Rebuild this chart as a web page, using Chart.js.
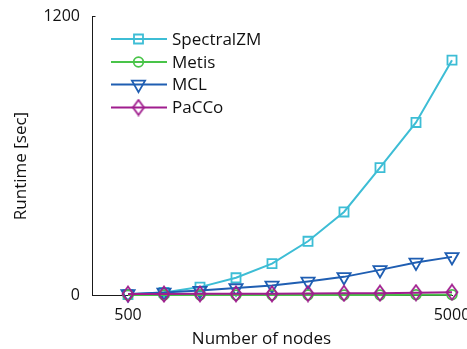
<!DOCTYPE html>
<html>
<head>
<meta charset="utf-8">
<script src="https://cdn.jsdelivr.net/npm/chart.js@4/dist/chart.umd.min.js"></script>
<style>
  html, body { margin: 0; padding: 0; background: #fff; }
  canvas { display: block; }
</style>
</head>
<body>
<canvas id="runtime" width="467" height="349"></canvas>
<script>
// Runtime (seconds) of each clustering method against graph size
const nodes      = [500, 1000, 1500, 2000, 2500, 3000, 3500, 4000, 4500, 5000];
const spectralZM = [2, 11, 34, 74, 135, 231, 357, 548, 742, 1010];
const metis      = [0, 0, 0, 0, 0, 0, 0, 0, 1, 1];
const mcl        = [4, 11, 19, 30, 41, 58, 78, 108, 140, 164];
const pacco      = [4, 4, 5, 5, 5, 6, 7, 8, 10, 12];
const xTicks     = [500, 5000];
const yTicks     = [0, 1200];
const seriesNames = ['SpectralZM', 'Metis', 'MCL', 'PaCCo'];

const COLORS = {
  spectral: '#3dbdd5',
  metis: '#49c449',
  mcl: '#1f5eb2',
  pacco: '#a01d8e'
};
const FONT = '"Open Sans", "DejaVu Sans", sans-serif';
const AXIS_COLOR = '#1a1a1a';

// Tall hollow diamond used as the PaCCo marker
function makeDiamond(color) {
  const c = document.createElement('canvas');
  c.width = 16; c.height = 18;
  const g = c.getContext('2d');
  g.strokeStyle = color;
  g.lineWidth = 1.8;
  g.beginPath();
  g.moveTo(8, 1.5);
  g.lineTo(13.5, 9);
  g.lineTo(8, 16.5);
  g.lineTo(2.5, 9);
  g.closePath();
  g.stroke();
  return c;
}
const diamond = makeDiamond(COLORS.pacco);

const pairs = ys => nodes.map((n, i) => ({ x: n, y: ys[i] }));

const datasets = [
  { label: seriesNames[0], data: pairs(spectralZM), borderColor: COLORS.spectral,
    pointStyle: 'rect', pointRadius: 6.4, order: 4 },
  { label: seriesNames[1], data: pairs(metis), borderColor: COLORS.metis,
    pointStyle: 'circle', pointRadius: 4.8, order: 2 },
  { label: seriesNames[2], data: pairs(mcl), borderColor: COLORS.mcl,
    pointStyle: 'triangle', pointRotation: 180, pointRadius: 7.6, order: 3 },
  { label: seriesNames[3], data: pairs(pacco), borderColor: COLORS.pacco,
    pointStyle: diamond, pointRadius: 7, order: 1 }
].map(d => Object.assign({
  borderWidth: 2,
  pointBorderWidth: 1.8,
  pointBorderColor: d.borderColor,
  pointBackgroundColor: 'rgba(0,0,0,0)',
  tension: 0,
  clip: false,
  fill: false
}, d));

// Legend with a line sample and marker per series, plus both axis titles
function legendMarker(ctx, idx, x, y) {
  const col = datasets[idx].borderColor;
  ctx.save();
  ctx.strokeStyle = col;
  ctx.lineWidth = 1.8;
  ctx.beginPath();
  if (idx === 0) {
    ctx.rect(x - 4.5, y - 4.5, 9, 9);
  } else if (idx === 1) {
    ctx.arc(x, y, 4.8, 0, Math.PI * 2);
  } else if (idx === 2) {
    const r = 7.6;
    ctx.moveTo(x, y + r);
    ctx.lineTo(x + r * Math.cos(Math.PI / 6), y - r / 2);
    ctx.lineTo(x - r * Math.cos(Math.PI / 6), y - r / 2);
    ctx.closePath();
  }
  ctx.stroke();
  if (idx === 3) ctx.drawImage(diamond, x - diamond.width / 2, y - diamond.height / 2);
  ctx.restore();
}

const decorations = {
  id: 'decorations',
  afterDraw(chart) {
    const { ctx, chartArea, scales } = chart;
    ctx.save();
    // inward tick marks on the value axis
    ctx.strokeStyle = AXIS_COLOR;
    ctx.lineWidth = 1;
    yTicks.forEach(v => {
      const py = Math.round(scales.y.getPixelForValue(v)) + 0.5;
      ctx.beginPath();
      ctx.moveTo(chartArea.left, py);
      ctx.lineTo(chartArea.left + 3.5, py);
      ctx.stroke();
    });

    // legend
    const lx0 = chartArea.left + 19, lx1 = chartArea.left + 75, mx = chartArea.left + 46.5;
    const rowY = [39, 62, 84.5, 107.5];
    ctx.font = '17px ' + FONT;
    ctx.textBaseline = 'middle';
    ctx.textAlign = 'left';
    datasets.forEach((d, i) => {
      const y = rowY[i];
      ctx.strokeStyle = d.borderColor;
      ctx.lineWidth = 2;
      ctx.beginPath();
      ctx.moveTo(lx0, y);
      ctx.lineTo(lx1, y);
      ctx.stroke();
      legendMarker(ctx, i, mx, y);
      ctx.fillStyle = '#111';
      ctx.fillText(d.label, chartArea.left + 80, y + 1);
    });

    // axis titles
    ctx.fillStyle = '#111';
    ctx.textAlign = 'center';
    ctx.fillText('Number of nodes', 261.5, 339);
    ctx.translate(21, 166);
    ctx.rotate(-Math.PI / 2);
    ctx.fillText('Runtime [sec]', 0, 0);
    ctx.restore();
  }
};

new Chart(document.getElementById('runtime'), {
  type: 'line',
  data: { datasets },
  options: {
    responsive: false,
    animation: false,
    devicePixelRatio: 1,
    layout: { padding: { top: 16, right: 15, left: 0, bottom: 0 } },
    plugins: {
      legend: { display: false },
      tooltip: { enabled: false }
    },
    scales: {
      x: {
        type: 'linear',
        min: 0,
        max: 5000,
        afterBuildTicks: s => { s.ticks = xTicks.map(v => ({ value: v })); },
        afterFit: s => { s.height = 54; s.paddingLeft = 0; s.paddingRight = 0; },
        ticks: {
          autoSkip: false,
          maxRotation: 0,
          padding: 11,
          color: '#111',
          font: { family: FONT, size: 16 },
          callback: v => String(v)
        },
        grid: { display: true, drawOnChartArea: false, drawTicks: false },
        border: { display: true, color: AXIS_COLOR, width: 1 },
        title: { display: false }
      },
      y: {
        type: 'linear',
        min: 0,
        max: 1200,
        afterBuildTicks: s => { s.ticks = yTicks.map(v => ({ value: v })); },
        afterFit: s => { s.width = 92; s.paddingTop = 0; s.paddingBottom = 0; },
        ticks: {
          autoSkip: false,
          padding: 12,
          color: '#111',
          font: { family: FONT, size: 16 },
          callback: v => String(v)
        },
        grid: { display: true, drawOnChartArea: false, drawTicks: false },
        border: { display: true, color: AXIS_COLOR, width: 1 },
        title: { display: false }
      }
    }
  },
  plugins: [decorations]
});
</script>
</body>
</html>
